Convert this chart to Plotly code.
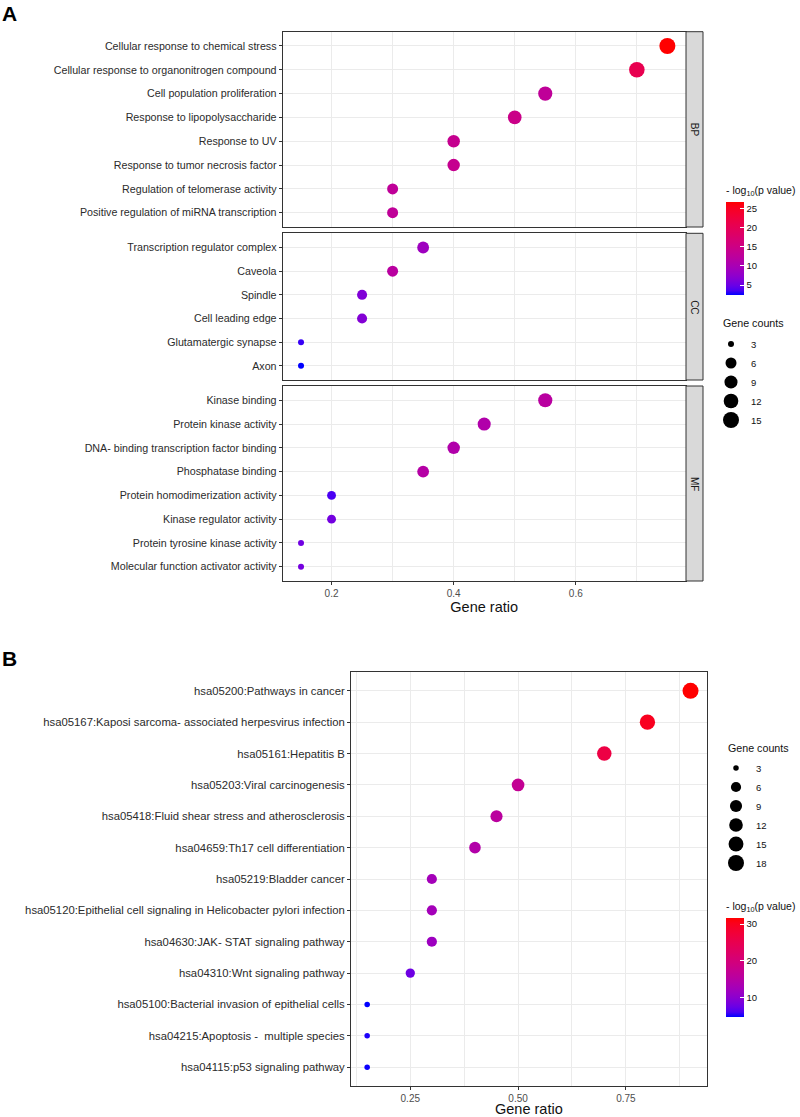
import numpy as np
import plotly.graph_objects as go

# ---------------- DATA ----------------
bp_terms = ["Cellular response to chemical stress",
            "Cellular response to organonitrogen compound",
            "Cell population proliferation",
            "Response to lipopolysaccharide",
            "Response to UV",
            "Response to tumor necrosis factor",
            "Regulation of telomerase activity",
            "Positive regulation of miRNA transcription"]
bp_ratio = [0.75, 0.70, 0.55, 0.50, 0.40, 0.40, 0.30, 0.30]
bp_count = [15, 14, 11, 10, 8, 8, 6, 6]
bp_logp = [26.6, 20.5, 12.8, 14.5, 13.8, 13.8, 12.8, 12.8]

cc_terms = ["Transcription regulator complex", "Caveola", "Spindle",
            "Cell leading edge", "Glutamatergic synapse", "Axon"]
cc_ratio = [0.35, 0.30, 0.25, 0.25, 0.15, 0.15]
cc_count = [7, 6, 5, 5, 3, 3]
cc_logp = [8.9, 12.0, 6.3, 6.5, 3.3, 2.4]

mf_terms = ["Kinase binding", "Protein kinase activity",
            "DNA- binding transcription factor binding", "Phosphatase binding",
            "Protein homodimerization activity", "Kinase regulator activity",
            "Protein tyrosine kinase activity", "Molecular function activator activity"]
mf_ratio = [0.55, 0.45, 0.40, 0.35, 0.20, 0.20, 0.15, 0.15]
mf_count = [11, 9, 8, 7, 4, 4, 3, 3]
mf_logp = [12.0, 11.0, 11.0, 11.5, 3.6, 5.5, 5.3, 5.6]

facet_names = ["BP", "CC", "MF"]

kegg_terms = ["hsa05200:Pathways in cancer",
              "hsa05167:Kaposi sarcoma- associated herpesvirus infection",
              "hsa05161:Hepatitis B",
              "hsa05203:Viral carcinogenesis",
              "hsa05418:Fluid shear stress and atherosclerosis",
              "hsa04659:Th17 cell differentiation",
              "hsa05219:Bladder cancer",
              "hsa05120:Epithelial cell signaling in Helicobacter pylori infection",
              "hsa04630:JAK- STAT signaling pathway",
              "hsa04310:Wnt signaling pathway",
              "hsa05100:Bacterial invasion of epithelial cells",
              "hsa04215:Apoptosis -  multiple species",
              "hsa04115:p53 signaling pathway"]
kegg_ratio = [0.90, 0.80, 0.70, 0.50, 0.45, 0.40, 0.30, 0.30, 0.30, 0.25, 0.15, 0.15, 0.15]
kegg_count = [18, 16, 14, 10, 9, 8, 6, 6, 6, 5, 3, 3, 3]
kegg_logp = [31.6, 29.8, 26.2, 17.0, 15.6, 14.5, 12.6, 12.6, 11.8, 7.9, 4.8, 5.3, 5.0]

go_size_breaks = [3, 6, 9, 12, 15]
kegg_size_breaks = [3, 6, 9, 12, 15, 18]
go_color_ticks = [5, 10, 15, 20, 25]
kegg_color_ticks = [10, 20, 30]

# ---------------- STYLE HELPERS ----------------
W, H = 800, 1117
FONT = "Liberation Sans, Arial, sans-serif"


def px_x(v):
    return v / W


def px_y(v):
    return 1 - v / H


def srgb_to_lab(c):
    c = np.array(c) / 255.0
    lin = np.where(c <= 0.04045, c / 12.92, ((c + 0.055) / 1.055) ** 2.4)
    M = np.array([[0.4124, 0.3576, 0.1805], [0.2126, 0.7152, 0.0722], [0.0193, 0.1192, 0.9505]])
    xyz = M @ lin
    xyz = xyz / np.array([0.95047, 1.0, 1.08883])
    f = np.where(xyz > 0.008856, np.cbrt(xyz), 7.787 * xyz + 16 / 116)
    return np.array([116 * f[1] - 16, 500 * (f[0] - f[1]), 200 * (f[1] - f[2])])


def lab_to_srgb(lab):
    L, a, b = lab
    fy = (L + 16) / 116
    fx = fy + a / 500
    fz = fy - b / 200
    f = np.array([fx, fy, fz])
    xyz = np.where(f ** 3 > 0.008856, f ** 3, (f - 16 / 116) / 7.787)
    xyz = xyz * np.array([0.95047, 1.0, 1.08883])
    Minv = np.array([[3.2406, -1.5372, -0.4986], [-0.9689, 1.8758, 0.0415], [0.0557, -0.2040, 1.0570]])
    lin = np.clip(Minv @ xyz, 0, 1)
    c = np.where(lin <= 0.0031308, 12.92 * lin, 1.055 * lin ** (1 / 2.4) - 0.055)
    c = np.clip(np.round(c * 255), 0, 255).astype(int)
    return "rgb(%d,%d,%d)" % tuple(c)


lab_lo = srgb_to_lab([0, 0, 255])
lab_hi = srgb_to_lab([255, 0, 0])
colorscale = [[t, lab_to_srgb(lab_lo + (lab_hi - lab_lo) * t)] for t in np.linspace(0, 1, 21)]


def diam(counts, cmin, cmax, dmin, dmax):
    c = np.array(counts, dtype=float)
    return list(dmin + (dmax - dmin) * np.sqrt((c - cmin) / (cmax - cmin)))


go_all_counts = bp_count + cc_count + mf_count
go_cmin, go_cmax = min(go_all_counts), max(go_all_counts)
kg_cmin, kg_cmax = min(kegg_count), max(kegg_count)
GO_D = (6.0, 16.0)
KG_D = (5.5, 16.0)

fig = go.Figure()

# ---------------- PANEL A GEOMETRY ----------------
a_x0, a_x1 = 282.7, 685.7
facet_px = [(31.7, 227.0), (233.3, 380.0), (386.0, 581.0)]
facet_terms = [bp_terms, cc_terms, mf_terms]
facet_ratio = [bp_ratio, cc_ratio, mf_ratio]
facet_count = [bp_count, cc_count, mf_count]
facet_logp = [bp_logp, cc_logp, mf_logp]

grid_c = "#EBEBEB"
line_c = "#333333"
ylab_c = "#2B2B2B"

for i in range(3):
    xa = "x" if i == 0 else "x%d" % (i + 1)
    ya = "y" if i == 0 else "y%d" % (i + 1)
    fig.add_trace(go.Scatter(
        x=facet_ratio[i], y=facet_terms[i], mode="markers", xaxis=xa, yaxis=ya,
        showlegend=False, hoverinfo="x+y",
        marker=dict(size=diam(facet_count[i], go_cmin, go_cmax, *GO_D),
                    color=facet_logp[i], coloraxis="coloraxis",
                    line=dict(width=0), opacity=1)))
    n = len(facet_terms[i])
    last = (i == 2)
    xkey = "xaxis" if i == 0 else "xaxis%d" % (i + 1)
    ykey = "yaxis" if i == 0 else "yaxis%d" % (i + 1)
    fig.layout[xkey] = dict(
        domain=[px_x(a_x0), px_x(a_x1)], anchor=ya, range=[0.12, 0.78],
        tick0=0.2, dtick=0.2, showgrid=True, gridcolor=grid_c, gridwidth=1,
        minor=dict(dtick=0.1, tick0=0.1, showgrid=True, gridcolor=grid_c, gridwidth=0.6, ticks=""),
        zeroline=False, showline=True, mirror=True, linecolor=line_c, linewidth=1,
        showticklabels=last, ticks="outside" if last else "", ticklen=3, tickcolor=line_c,
        tickfont=dict(family=FONT, size=10, color="#4D4D4D"),
        matches=None if i == 0 else "x",
        title=dict(text="Gene ratio" if last else "", font=dict(family=FONT, size=14.5, color="#111"),
                   standoff=3))
    fig.layout[ykey] = dict(
        domain=[px_y(facet_px[i][1]), px_y(facet_px[i][0])], anchor=xa,
        type="category", categoryorder="array", categoryarray=facet_terms[i],
        range=[n - 1 + 0.6, -0.6], showgrid=True, gridcolor=grid_c, gridwidth=1,
        zeroline=False, showline=True, mirror=True, linecolor=line_c, linewidth=1,
        ticks="outside", ticklen=3, tickcolor=line_c,
        tickfont=dict(family=FONT, size=10.7, color=ylab_c))
    # strip
    fig.add_shape(type="rect", xref="paper", yref="paper",
                  x0=px_x(686), x1=px_x(703), y0=px_y(facet_px[i][1]), y1=px_y(facet_px[i][0]),
                  fillcolor="#D9D9D9", line=dict(color=line_c, width=1), layer="above")
    fig.add_annotation(xref="paper", yref="paper", x=px_x(694.5),
                       y=px_y((facet_px[i][0] + facet_px[i][1]) / 2),
                       xanchor="center", yanchor="middle",
                       text=facet_names[i], textangle=90, showarrow=False,
                       font=dict(family=FONT, size=10, color="#1A1A1A"))

# ---------------- PANEL B ----------------
b_x0, b_x1 = 351.0, 706.7
b_y0, b_y1 = 672.0, 1086.0
nb = len(kegg_terms)
fig.add_trace(go.Scatter(
    x=kegg_ratio, y=kegg_terms, mode="markers", xaxis="x4", yaxis="y4",
    showlegend=False, hoverinfo="x+y",
    marker=dict(size=diam(kegg_count, kg_cmin, kg_cmax, *KG_D),
                color=kegg_logp, coloraxis="coloraxis2", line=dict(width=0), opacity=1)))
fig.layout["xaxis4"] = dict(
    domain=[px_x(b_x0), px_x(b_x1)], anchor="y4", range=[0.1125, 0.9375],
    tick0=0.25, dtick=0.25, tickformat=".2f", showgrid=True, gridcolor=grid_c, gridwidth=1,
    minor=dict(dtick=0.125, tick0=0.125, showgrid=True, gridcolor=grid_c, gridwidth=0.6, ticks=""),
    zeroline=False, showline=True, mirror=True, linecolor=line_c, linewidth=1,
    ticks="outside", ticklen=3, tickcolor=line_c,
    tickfont=dict(family=FONT, size=10, color="#4D4D4D"),
    title=dict(text="Gene ratio", font=dict(family=FONT, size=14.5, color="#111"), standoff=3))
fig.layout["yaxis4"] = dict(
    domain=[px_y(b_y1), px_y(b_y0)], anchor="x4",
    type="category", categoryorder="array", categoryarray=kegg_terms,
    range=[nb - 1 + 0.6, -0.6], showgrid=True, gridcolor=grid_c, gridwidth=1,
    zeroline=False, showline=True, mirror=True, linecolor=line_c, linewidth=1,
    ticks="outside", ticklen=3, tickcolor=line_c,
    tickfont=dict(family=FONT, size=11.3, color=ylab_c))

# ---------------- SIZE LEGENDS ----------------
for v in go_size_breaks:
    fig.add_trace(go.Scatter(
        x=[None], y=[None], mode="markers", name=str(v), legend="legend",
        xaxis="x", yaxis="y", hoverinfo="skip",
        marker=dict(size=diam([v], go_cmin, go_cmax, *GO_D)[0], color="black", line=dict(width=0))))
for v in kegg_size_breaks:
    fig.add_trace(go.Scatter(
        x=[None], y=[None], mode="markers", name=str(v), legend="legend2",
        xaxis="x4", yaxis="y4", hoverinfo="skip",
        marker=dict(size=diam([v], kg_cmin, kg_cmax, *KG_D)[0], color="black", line=dict(width=0))))

legend_common = dict(xanchor="left", yanchor="top", bgcolor="rgba(0,0,0,0)",
                     borderwidth=0, itemsizing="trace", itemwidth=30,
                     font=dict(family=FONT, size=9.5, color="#111"),
                     tracegroupgap=0)

cbar_common = dict(xanchor="left", yanchor="top", lenmode="pixels",
                   thicknessmode="pixels", thickness=18, outlinewidth=0, xpad=0, ypad=0,
                   ticks="inside", ticklen=4, tickcolor="white",
                   tickfont=dict(family=FONT, size=9.5, color="#111"))
cbar_title = dict(text="- log<sub>10</sub>(p value)", side="top",
                  font=dict(family=FONT, size=10.5, color="#111"))

fig.update_layout(
    width=W, height=H, margin=dict(l=0, r=0, t=0, b=0),
    paper_bgcolor="white", plot_bgcolor="white",
    font=dict(family=FONT),
    legend=dict(x=px_x(711), y=px_y(329.5), **legend_common),
    legend2=dict(x=px_x(716), y=px_y(753.5), **legend_common),
    coloraxis=dict(
        colorscale=colorscale,
        cmin=min(bp_logp + cc_logp + mf_logp), cmax=max(bp_logp + cc_logp + mf_logp),
        colorbar=dict(x=px_x(726), y=px_y(183), len=112, tickvals=go_color_ticks,
                      title=cbar_title, **cbar_common)),
    coloraxis2=dict(
        colorscale=colorscale,
        cmin=min(kegg_logp), cmax=max(kegg_logp),
        colorbar=dict(x=px_x(726), y=px_y(899), len=118, tickvals=kegg_color_ticks,
                      title=cbar_title, **cbar_common)),
)

# legend titles
fig.add_annotation(xref="paper", yref="paper", x=px_x(721), y=px_y(323), xanchor="left", yanchor="middle",
                   text="Gene counts", showarrow=False, font=dict(family=FONT, size=10.7, color="#111"))
fig.add_annotation(xref="paper", yref="paper", x=px_x(726), y=px_y(747.5), xanchor="left", yanchor="middle",
                   text="Gene counts", showarrow=False, font=dict(family=FONT, size=10.7, color="#111"))

# panel tags
fig.add_annotation(xref="paper", yref="paper", x=px_x(0), y=px_y(0), xanchor="left", yanchor="top",
                   text="<b>A</b>", showarrow=False, font=dict(family=FONT, size=21, color="black"))
fig.add_annotation(xref="paper", yref="paper", x=px_x(0), y=px_y(645), xanchor="left", yanchor="top",
                   text="<b>B</b>", showarrow=False, font=dict(family=FONT, size=21, color="black"))

fig.write_html("out.html", config={"displayModeBar": False},
               post_script="document.body.style.margin='0px';")
